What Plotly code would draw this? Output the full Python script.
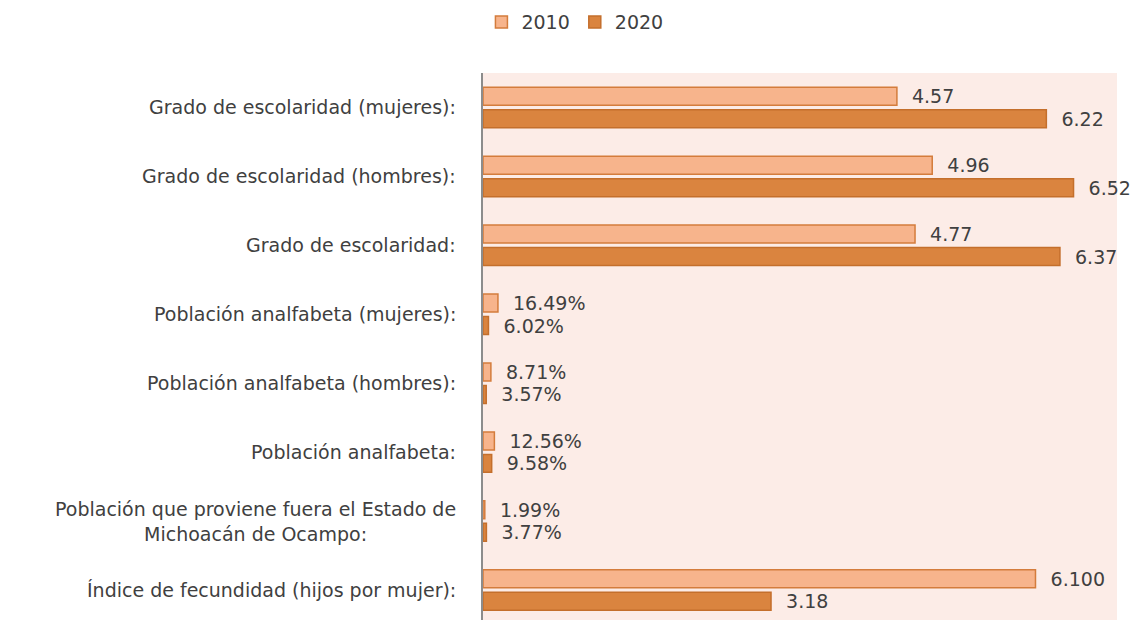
import plotly.graph_objects as go

categories = [
    "Grado de escolaridad (mujeres):",
    "Grado de escolaridad (hombres):",
    "Grado de escolaridad:",
    "Población analfabeta (mujeres):",
    "Población analfabeta (hombres):",
    "Población analfabeta:",
    "Población que proviene fuera el Estado de<br>Michoacán de Ocampo:",
    "Índice de fecundidad (hijos por mujer):",
]
values_2010 = [4.57, 4.96, 4.77, 0.1649, 0.0871, 0.1256, 0.0199, 6.100]
values_2020 = [6.22, 6.52, 6.37, 0.0602, 0.0357, 0.0958, 0.0377, 3.18]
labels_2010 = ["4.57", "4.96", "4.77", "16.49%", "8.71%", "12.56%", "1.99%", "6.100"]
labels_2020 = ["6.22", "6.52", "6.37", "6.02%", "3.57%", "9.58%", "3.77%", "3.18"]
series_names = ["2010", "2020"]

TXT = "#404040"
FONT = "DejaVu Sans"
pad = "\u00a0\u00a0"

fig = go.Figure()
fig.add_trace(go.Bar(
    name=series_names[0], y=categories, x=values_2010, orientation="h",
    marker=dict(color="#F7B48C", line=dict(color="#D47C3C", width=1.5)),
    text=labels_2010, texttemplate=pad + "%{text}", textposition="outside",
    constraintext="none", cliponaxis=False,
    textfont=dict(family=FONT, size=19, color=TXT),
))
fig.add_trace(go.Bar(
    name=series_names[1], y=categories, x=values_2020, orientation="h",
    marker=dict(color="#DA843F", line=dict(color="#C46F2C", width=1.5)),
    text=labels_2020, texttemplate=pad + "%{text}", textposition="outside",
    constraintext="none", cliponaxis=False,
    textfont=dict(family=FONT, size=19, color=TXT),
))

for c in categories:
    fig.add_annotation(
        x=0, xref="paper", xshift=-25, xanchor="right",
        y=c, yref="y", yanchor="middle",
        text=c, showarrow=False, align="center",
        font=dict(family=FONT, size=19, color=TXT),
    )

fig.update_layout(
    width=1132, height=612,
    margin=dict(l=475, r=23, t=65, b=0, autoexpand=False),
    paper_bgcolor="white",
    plot_bgcolor="#FCECE7",
    barmode="group",
    bargap=0.348,
    bargroupgap=0.2,
    showlegend=True,
    legend=dict(
        orientation="h", x=0.145, xanchor="center", y=1.093, yanchor="middle",
        font=dict(family=FONT, size=19, color=TXT), traceorder="normal",
        itemwidth=30,
    ),
    xaxis=dict(range=[0, 7], showgrid=False, showticklabels=False, zeroline=False,
               showline=False, fixedrange=True),
    yaxis=dict(range=[7.435, -0.5], type="category", showgrid=False,
               showticklabels=False, showline=True, linecolor="#8C8C8C",
               linewidth=1.5, ticks="", fixedrange=True),
)

fig.write_html("out.html")
